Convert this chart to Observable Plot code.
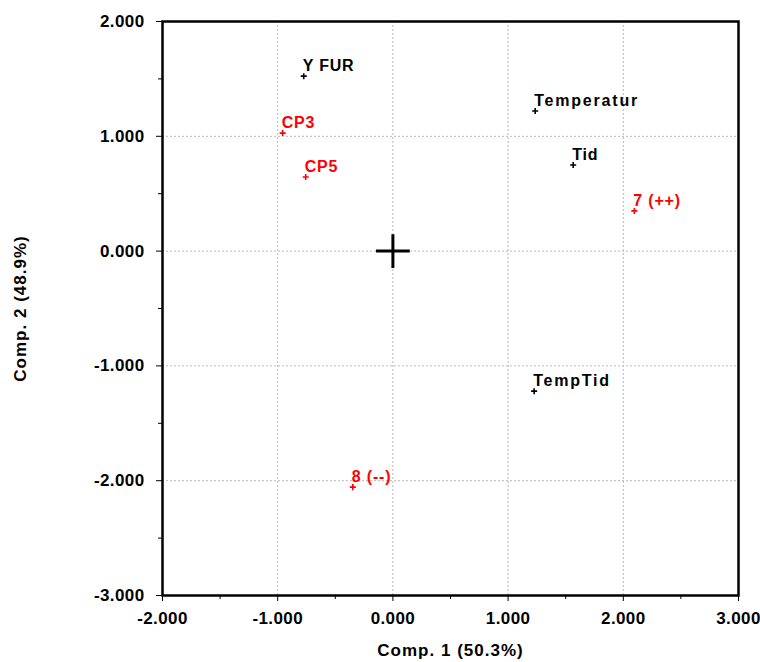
<!DOCTYPE html>
<html>
<head>
<meta charset="utf-8">
<script src="https://cdn.jsdelivr.net/npm/d3@7"></script>
<script src="https://cdn.jsdelivr.net/npm/@observablehq/plot@0.6"></script>
<style>
  html, body { margin: 0; padding: 0; background: #fff; }
  svg { font-family: "Liberation Sans", Arial, sans-serif; font-weight: bold; }
</style>
</head>
<body>
<div id="chart"></div>
<script>
const labels = ["Y FUR", "CP3", "CP5", "Temperatur", "Tid", "7 (++)", "TempTid", "8 (--)"];
const comp1 = [-0.774, -0.957, -0.757, 1.235, 1.565, 2.096, 1.226, -0.348];
const comp2 = [1.524, 1.028, 0.645, 1.220, 0.750, 0.350, -1.220, -2.056];
const groups = ["var", "obs", "obs", "var", "var", "obs", "var", "obs"];
const xTicks = [-2, -1, 0, 1, 2, 3];
const yTicks = [-3, -2, -1, 0, 1, 2];
const xMinor = [-1.5, -0.5, 0.5, 1.5, 2.5];
const yMinor = [-2.5, -1.5, -0.5, 0.5, 1.5];
const origin = [{x: 0, y: 0}];

const data = labels.map((l, i) => ({label: l, x: comp1[i], y: comp2[i], g: groups[i]}));
const col = g => g === "obs" ? "#ff0000" : "#000000";
const fmt = v => d3.format(".3f")(v).replace("\u2212", "-");

const chart = Plot.plot({
  width: 760,
  height: 662,
  marginLeft: 162,
  marginRight: 22,
  marginTop: 21,
  marginBottom: 67,
  style: {fontFamily: "'Liberation Sans', Arial, sans-serif", fontWeight: "bold", fontSize: "16px", color: "#000"},
  x: {domain: [-2, 3]},
  y: {domain: [-3, 2]},
  marks: [
    Plot.gridX(xTicks, {stroke: "#b8b8b8", strokeOpacity: 1, strokeDasharray: "2,2"}),
    Plot.gridY(yTicks, {stroke: "#b8b8b8", strokeOpacity: 1, strokeDasharray: "2,2"}),
    Plot.frame({stroke: "#000", strokeWidth: 2.5}),
    Plot.axisX(xTicks, {tickFormat: fmt, tickSize: 6, tickPadding: 10, fontSize: 17, fontWeight: "bold",
      label: "Comp. 1 (50.3%)", labelAnchor: "center", labelOffset: 60, labelArrow: "none"}),
    Plot.axisX(xMinor, {text: null, tickSize: 4, label: null}),
    Plot.axisY(yTicks, {tickFormat: fmt, tickSize: 6, tickPadding: 12, fontSize: 17, fontWeight: "bold",
      label: "Comp. 2 (48.9%)", labelAnchor: "center", labelOffset: 149, labelArrow: "none"}),
    Plot.axisY(yMinor, {text: null, tickSize: 4, label: null}),
    Plot.dot(origin, {x: "x", y: "y", symbol: "plus", r: 10.9, stroke: "#000", strokeWidth: 3}),
    Plot.dot(data, {x: "x", y: "y", symbol: "plus", r: 2.1, stroke: d => col(d.g), strokeWidth: 1.6}),
    Plot.text(data, {x: "x", y: "y", text: "label", fill: d => col(d.g), textAnchor: "start",
      dx: -1, dy: -10, fontSize: 16, fontWeight: "bold"})
  ]
});
const svg = d3.select(chart);
svg.selectAll("g[aria-label='text'] text")
  .attr("letter-spacing", function () { return /^Temp/.test(this.textContent) ? "1.8px" : "0.8px"; });
svg.selectAll("g[aria-label='x-axis tick label'] text, g[aria-label='y-axis tick label'] text").attr("letter-spacing", "0.4px");
svg.selectAll("g[aria-label='x-axis label'] text, g[aria-label='y-axis label'] text").attr("letter-spacing", "1px");
document.getElementById("chart").appendChild(chart);
</script>
</body>
</html>
